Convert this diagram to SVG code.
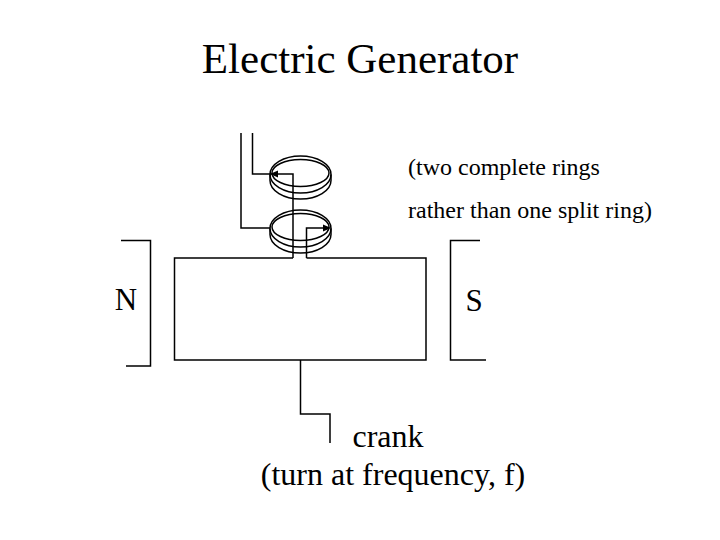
<svg xmlns="http://www.w3.org/2000/svg" width="720" height="540" viewBox="0 0 720 540">
<style>
.ln{fill:none;stroke:#000;stroke-width:1.5;stroke-linejoin:miter}
.ah{fill:#000;stroke:none}
</style>
<defs>
<g id="ring">
<ellipse class="ln" cx="300.5" cy="174.5" rx="30.5" ry="18.5"/>
<ellipse class="ln" cx="300.5" cy="173" rx="28.5" ry="13.5"/>
<path class="ln" d="M270,174.5 V180.5 A30.5,18.5 0 0 0 331,180.5 V174.5"/>
</g>
</defs>
<rect width="720" height="540" fill="#fff"/>
<g id="title" font-family="'Liberation Serif', 'DejaVu Serif', serif">
<text x="360" y="73" font-size="43" text-anchor="middle">Electric Generator</text>
</g>
<g id="ring-upper">
<use href="#ring"/>
</g>
<g id="ring-lower">
<use href="#ring" transform="translate(0,54)"/>
</g>
<g id="magnet-n" font-family="'Liberation Serif', 'DejaVu Serif', serif">
<path class="ln" d="M121,240.5 H150.5 V366 H126"/>
<text x="126" y="310" font-size="31" text-anchor="middle">N</text>
</g>
<g id="magnet-s" font-family="'Liberation Serif', 'DejaVu Serif', serif">
<path class="ln" d="M480,240.5 H450.5 V360 H486"/>
<text x="474" y="311" font-size="31" text-anchor="middle">S</text>
</g>
<g id="coil">
<path class="ln" d="M293,258 H174.5 V360 H426 V258 H306.5"/>
</g>
<g id="note" font-family="'Liberation Serif', 'DejaVu Serif', serif">
<text x="408" y="175" font-size="24">(two complete rings</text>
<text x="408" y="218" font-size="24">rather than one split ring)</text>
</g>
<g id="crank-label" font-family="'Liberation Serif', 'DejaVu Serif', serif">
<text x="388" y="447" font-size="32" text-anchor="middle">crank</text>
<text x="393" y="485" font-size="32" text-anchor="middle">(turn at frequency, f)</text>
</g>
<g id="connectors">
<polyline class="ln" points="252.5,133 252.5,174 293,174 293,258"/>
<polygon class="ah" points="270,174 278,170.5 278,177.5"/>
<polyline class="ln" points="241,133 241,228 270,228"/>
<polyline class="ln" points="306.5,258 306.5,228 324,228"/>
<polygon class="ah" points="331,228 323,224.5 323,231.5"/>
<polyline class="ln" points="300.5,360 300.5,414 330,414 330,443"/>
</g>
</svg>
